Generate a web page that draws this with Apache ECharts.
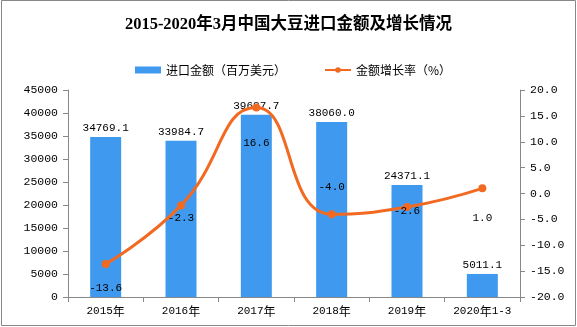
<!DOCTYPE html>
<html><head><meta charset="utf-8">
<script src="https://cdn.jsdelivr.net/npm/echarts@6/dist/echarts.min.js"></script>
<style>html,body{margin:0;padding:0;background:#fff}#c{width:577px;height:327px}</style>
</head><body><div id="c"></div>
<script>
const categories = ['2015年','2016年','2017年','2018年','2019年','2020年1-3'];
const importValues = [34769.1, 33984.7, 39637.7, 38060.0, 24371.1, 5011.1];
const growthRates = [-13.6, -2.3, 16.6, -4.0, -2.6, 1.0];
const growthLabelOffsets = [24, 13, 35, -27, 4, 30];

const MONO = "'Liberation Mono','Noto Sans CJK SC'";
const CJK = "'Noto Sans CJK SC'";
const chart = echarts.init(document.getElementById('c'), null, {renderer:'canvas'});
chart.setOption({
  animation: false,
  backgroundColor: '#fff',
  title: {
    text: '2015-2020年3月中国大豆进口金额及增长情况',
    left: 'center', top: 11,
    textStyle: {fontFamily: "'Liberation Serif','Noto Sans CJK SC'", fontSize: 16.5, fontWeight: 'bold', color: '#000'}
  },
  legend: {
    top: 59, left: 130, itemGap: 38, itemWidth: 26, itemHeight: 7,
    textStyle: {fontFamily: CJK, fontSize: 12, color: '#000'},
    data: [{name:'进口金额（百万美元）', icon:'rect'}, {name:'金额增长率（%）'}]
  },
  graphic: [{type:'rect', shape:{x:1.5, y:0.5, width:574, height:325}, style:{fill:'none', stroke:'#888', lineWidth:1}, silent:true}],
  grid: {left: 68, right: 57, top: 90, bottom: 30},
  xAxis: {
    type: 'category', data: categories,
    axisLine: {lineStyle: {color: '#888'}},
    axisTick: {show: true, length: 5, lineStyle: {color: '#888'}},
    axisLabel: {interval: 0, color: '#000', fontFamily: MONO, fontSize: 11, margin: 8,
      formatter: v => v.replace(/([^\x00-\x7f]+)/g, '{c|$1}'),
      rich: {c: {fontFamily: CJK, fontSize: 12, color: '#000'}}}
  },
  yAxis: [{
    type: 'value', min: 0, max: 45000, interval: 5000,
    splitLine: {show: false},
    axisLine: {show: true, lineStyle: {color: '#888'}},
    axisTick: {show: true, length: 5, lineStyle: {color: '#888'}},
    axisLabel: {color: '#000', fontFamily: MONO, fontSize: 11.5, margin: 10, formatter: v => String(v)}
  }, {
    type: 'value', min: -20, max: 20, interval: 5,
    splitLine: {show: false},
    axisLine: {show: true, lineStyle: {color: '#888'}},
    axisTick: {show: true, length: 5, lineStyle: {color: '#888'}},
    axisLabel: {color: '#000', fontFamily: MONO, fontSize: 11.5, margin: 10, formatter: v => v.toFixed(1)}
  }],
  series: [{
    name: '进口金额（百万美元）', type: 'bar', barWidth: 31,
    data: importValues,
    itemStyle: {color: '#3F9AEF'},
    label: {show: true, position: 'top', distance: 3, color: '#000', fontFamily: MONO, fontSize: 11,
      formatter: p => p.value.toFixed(1)}
  }, {
    name: '金额增长率（%）', type: 'line', yAxisIndex: 1, smooth: true,
    symbol: 'circle', symbolSize: 8,
    lineStyle: {color: '#F26A22', width: 3},
    itemStyle: {color: '#F26A22'},
    data: growthRates.map((v, i) => ({value: v, label: {offset: [0, growthLabelOffsets[i]]}})),
    label: {show: true, position: 'inside', color: '#000', fontFamily: MONO, fontSize: 11,
      formatter: p => p.value.toFixed(1)},
    z: 5
  }]
});
</script></body></html>
